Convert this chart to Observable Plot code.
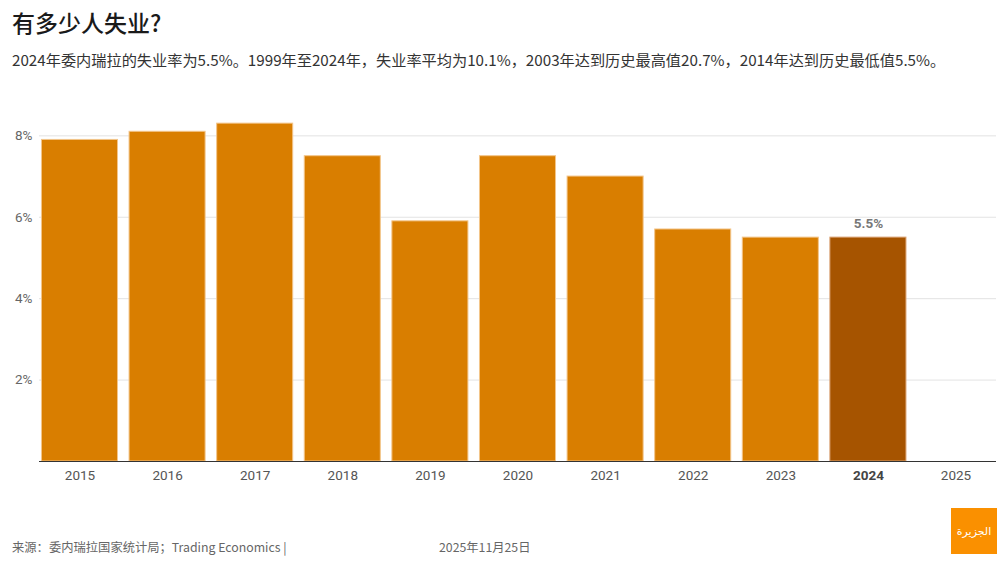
<!DOCTYPE html>
<html>
<head>
<meta charset="utf-8">
<script src="https://cdn.jsdelivr.net/npm/d3@7"></script>
<script src="https://cdn.jsdelivr.net/npm/@observablehq/plot@0.6"></script>
<style>
  html, body { margin: 0; padding: 0; background: #fff; }
  #wrap { position: relative; width: 1005px; height: 570px; overflow: hidden; font-family: "Noto Sans CJK SC", "Noto Sans", sans-serif; }
  #title { position: absolute; left: 12px; top: 5px; font-size: 23px; color: #1a1a1a; font-weight: 500; }
  #subtitle { position: absolute; left: 12px; top: 48px; font-size: 15.2px; color: #333; white-space: nowrap; }
  #chart { position: absolute; left: 0; top: 95px; }
  #source { position: absolute; left: 12px; top: 538px; font-size: 12.3px; color: #666; }
  #date { position: absolute; left: 439px; top: 538px; font-size: 12.3px; color: #666; }
  #logo { position: absolute; left: 951px; top: 508px; width: 46px; height: 46px; background: #fa9000; color: #fff; font-family: "DejaVu Sans", sans-serif; font-size: 11px; display: flex; align-items: center; justify-content: center; }
</style>
</head>
<body>
<div id="wrap">
  <div id="title">有多少人失业?</div>
  <div id="subtitle">2024年委内瑞拉的失业率为5.5%。1999年至2024年，失业率平均为10.1%，2003年达到历史最高值20.7%，2014年达到历史最低值5.5%。</div>
  <div id="chart"></div>
  <div id="source">来源：委内瑞拉国家统计局；Trading Economics |</div>
  <div id="date">2025年11月25日</div>
  <div id="logo">الجزيرة</div>
</div>
<script>
const years = ["2015", "2016", "2017", "2018", "2019", "2020", "2021", "2022", "2023", "2024", "2025"];
const rates = [7.9, 8.1, 8.3, 7.5, 5.9, 7.5, 7.0, 5.7, 5.5, 5.5, null];
const highlightYear = "2024";
const yTicks = [2, 4, 6, 8];

const data = years.map((y, i) => ({year: y, rate: rates[i]})).filter(d => d.rate != null);
const normal = data.filter(d => d.year !== highlightYear);
const highlight = data.filter(d => d.year === highlightYear);

const chart = Plot.plot({
  width: 1005,
  height: 400,
  marginLeft: 39,
  marginRight: 9,
  marginTop: 20,
  marginBottom: 34,
  style: {fontFamily: "Roboto, sans-serif", fontSize: "13.5px", background: "transparent"},
  x: {domain: years, paddingInner: 0.132, paddingOuter: 0.028, round: false, axis: null},
  y: {domain: [0, 8.5], axis: null},
  marks: [
    Plot.gridY(yTicks, {stroke: "#e3e3e3", strokeOpacity: 1}),
    Plot.axisY(yTicks, {tickSize: 0, tickPadding: 7, tickFormat: d => d + "%", fill: "#666", fontSize: 13.5, label: null}),
    Plot.barY(normal, {x: "year", y: "rate", fill: "#d97e00", stroke: "#f3c58a", strokeWidth: 1}),
    Plot.barY(highlight, {x: "year", y: "rate", fill: "#a65400", stroke: "#d9a070", strokeWidth: 1}),
    Plot.text(highlight, {x: "year", y: "rate", text: d => d.rate + "%", dy: -14, fill: "#777", fontWeight: "bold", fontSize: 13.5}),
    Plot.ruleY([0], {stroke: "#333", strokeWidth: 1.2}),
    Plot.axisX(years.filter(y => y !== highlightYear), {tickSize: 0, tickPadding: 9, fill: "#555", fontSize: 13.5, label: null}),
    Plot.axisX([highlightYear], {tickSize: 0, tickPadding: 9, fill: "#444", fontWeight: "bold", fontSize: 13.5, label: null})
  ]
});
document.getElementById("chart").appendChild(chart);
</script>
</body>
</html>
